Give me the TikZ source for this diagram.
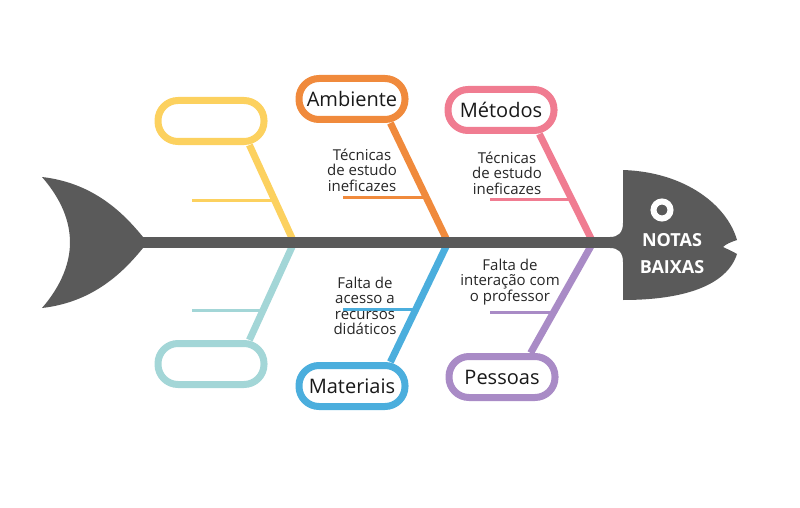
\documentclass[tikz,border=0pt]{standalone}
\usepackage{fontspec}
\setmainfont{Open Sans}
\usepackage{tikz}
\usetikzlibrary{backgrounds}
\definecolor{spinegray}{HTML}{5A5A5A}
\definecolor{cyellow}{HTML}{FCD15F}
\definecolor{cteal}{HTML}{A3D6D7}
\definecolor{corange}{HTML}{F08A3C}
\definecolor{cpink}{HTML}{F07C91}
\definecolor{cblue}{HTML}{4BAEDD}
\definecolor{cpurple}{HTML}{A98BC6}
\tikzset{
	catbox/.style={draw=#1, line width=7pt, fill=white, rounded corners=20pt, minimum width=106pt, minimum height=41pt, inner sep=0pt, text=black!90, font=\fontsize{20}{21}\selectfont},
	bone/.style={draw=#1, line width=7pt},
	rib/.style={draw=#1, line width=3pt},
	cause/.style={align=center, text=black!85, font=\fontsize{15}{15.5}\selectfont, inner sep=0pt}
}

\begin{document}
\begin{tikzpicture}[x=1pt, y=-1pt]
			%%%%% START %%%%%
			\useasboundingbox (0,0) rectangle (800,508);
			
			\coordinate (s1) at (294,242.5);
			\coordinate (s2) at (448,242.5);
			\coordinate (s3) at (593,242.5);
			
			% boxes
			\node[catbox=cyellow] (b1) at (211,121) {};
			\node[catbox=cteal] (b4) at (211,364) {};
			\node[catbox=corange] (amb) at (352,99) {Ambiente};
			\node[catbox=cpink] (met) at (501,110) {Métodos};
			\node[catbox=cblue] (mat) at (352,386) {Materiais};
			\node[catbox=cpurple] (pes) at (502,377) {Pessoas};
			
			\begin{pgfonlayer}{background}
				% bones
				\draw[bone=cyellow] (s1) -- coordinate[pos=0.433] (r1) (b1.-32);
				\draw[bone=cteal] (s1) -- coordinate[pos=0.70] (r4) (b4.32);
				\draw[bone=corange] (s2) -- coordinate[pos=0.375] (r2) (amb.-32);
				\draw[bone=cpink] (s3) -- coordinate[pos=0.40] (r3) (met.-32);
				\draw[bone=cblue] (s2) -- coordinate[pos=0.56] (r5) (mat.32);
				\draw[bone=cpurple] (s3) -- coordinate[pos=0.63] (r6) (pes.40);
				
				% tail and spine
				\fill[spinegray] (42,177) .. controls (95,183) and (125,215) .. (143,237) -- (143,248) .. controls (125,270) and (95,302) .. (42,308) .. controls (62,285) and (70,262) .. (70,242.5) .. controls (70,222) and (62,200) .. (42,177) -- cycle;
				\draw[spinegray, line width=11pt] (135,242.5) -- (615,242.5);
			\end{pgfonlayer}
			
			% head
			\fill[spinegray] (623,170) .. controls (685,172) and (727,205) .. (737,240) .. controls (731,242) and (726,244) .. (723,247) .. controls (727,249) and (732,251) .. (737,254) .. controls (727,285) and (685,300) .. (623,300) -- (623,262) .. controls (623,252) and (618,248) .. (610,248) -- (610,237) .. controls (618,237) and (623,233) .. (623,223) -- cycle;
			\draw[white, line width=6pt] (662,210) circle (8.5);
			\node[text=white, font=\bfseries\fontsize{18}{27}\selectfont, align=center, inner sep=0pt] (head) at (672,253.5) {NOTAS\\BAIXAS};
			
			% ribs
			\coordinate (e1) at (192,0);
			\coordinate (e2) at (343,0);
			\coordinate (e3) at (490,0);
			\draw[rib=cyellow] (e1 |- r1) -- (r1);
			\draw[rib=cteal] (e1 |- r4) -- (r4);
			\draw[rib=corange] (e2 |- r2) -- (r2);
			\draw[rib=cpink] (e3 |- r3) -- (r3);
			\draw[rib=cblue] (e2 |- r5) -- (r5);
			\draw[rib=cpurple] (e3 |- r6) -- (r6);
			
			% causes
			\node[cause] (c2) at (362,170) {Técnicas\\de estudo\\ineficazes};
			\node[cause] (c3) at (507,173) {Técnicas\\de estudo\\ineficazes};
			\node[cause] (c5) at (365,306) {Falta de\\acesso a\\recursos\\didáticos};
			\node[cause] (c6) at (510,282) {Falta de\\interação com\\o professor};
			%%%%% END %%%%%
\end{tikzpicture}
\end{document}
